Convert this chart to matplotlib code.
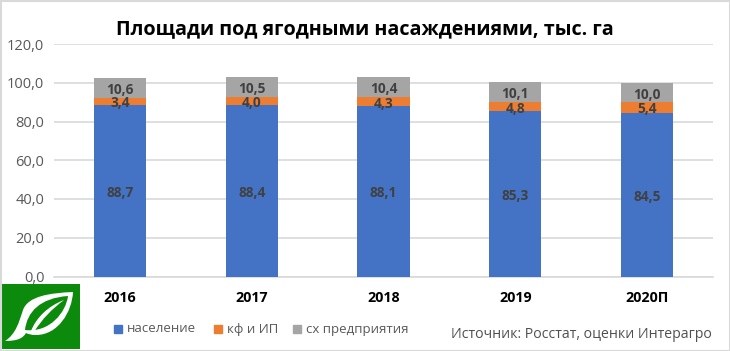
import matplotlib
matplotlib.use("Agg")
import matplotlib.pyplot as plt
from matplotlib.patches import Rectangle, PathPatch
from matplotlib.path import Path

years = ["2016", "2017", "2018", "2019", "2020П"]
naselenie = [88.7, 88.4, 88.1, 85.3, 84.5]
kf_ip = [3.4, 4.0, 4.3, 4.8, 5.4]
sh = [10.6, 10.5, 10.4, 10.1, 10.0]
yticks = [0, 20, 40, 60, 80, 100, 120]
names = ["население", "кф и ИП", "сх предприятия"]
colors = ["#4472C4", "#ED7D31", "#A5A5A5"]

plt.rcParams['font.family'] = ['Open Sans', 'DejaVu Sans']
W, H = 730, 351
fig = plt.figure(figsize=(W/100, H/100), dpi=100, facecolor="white")
ax = fig.add_axes([54/W, 1-276.5/H, 659/W, 232.5/H])
bottom = [0]*5
for vals, c in zip([naselenie, kf_ip, sh], colors):
    bars = ax.bar(range(5), vals, width=0.395, bottom=bottom, color=c, zorder=3)
    for b, v, bt in zip(bars, vals, bottom):
        ax.annotate(f"{v:.1f}".replace(".", ","), (b.get_x()+b.get_width()/2, bt+v/2),
                    xytext=(0, -1.4), textcoords="offset points",
                    ha="center", va="center", fontsize=9.8, fontweight="bold",
                    color="#404040", zorder=4)
    bottom = [a+b for a, b in zip(bottom, vals)]
ax.set_xlim(-0.5, 4.5)
ax.set_ylim(0, 120)
ax.set_yticks(yticks)
ax.set_yticklabels([f"{v:.1f}".replace(".", ",") for v in yticks], fontsize=10.5, color="#595959")
ax.set_xticks(range(5))
ax.set_xticklabels(years, fontsize=10.3, fontweight="bold", color="black")
ax.tick_params(length=0)
ax.tick_params(axis="x", pad=10.5)
ax.tick_params(axis="y", pad=7)
ax.grid(axis="y", color="#D9D9D9", lw=1.2, zorder=0)
for s in ["top", "right", "left"]:
    ax.spines[s].set_visible(False)
ax.spines["bottom"].set_color("#D9D9D9")
ax.spines["bottom"].set_linewidth(1.2)

fig.text(365/W, 1-29/H, "Площади под ягодными насаждениями, тыс. га", ha="center", va="center",
         fontsize=14.2, fontweight="bold", color="black")
fig.text(581/W, 1-334/H, "Источник: Росстат, оценки Интерагро", ha="center", va="center",
         fontsize=10.2, color="#505050")

for x, n, c in zip([114, 214, 293], names, colors):
    fig.add_artist(Rectangle((x/W, 1-333/H), 8/W, 8/H, transform=fig.transFigure, color=c))
    fig.text((x+13)/W, 1-329/H, n, ha="left", va="center", fontsize=9.5, color="#595959")

# logo
GREEN = "#0B8A0B"
ov = fig.add_axes([0, 0, 1, 1], facecolor="none")
ov.set_xlim(0, W); ov.set_ylim(H, 0); ov.axis("off")
ov.add_patch(Rectangle((2, 284), 78, 65, color=GREEN, lw=0))
M, C, Z = Path.MOVETO, Path.CURVE4, Path.CLOSEPOLY
ov.add_patch(PathPatch(Path(
    [(5, 341), (16, 334), (19, 322), (23, 310), (28, 296), (50, 293), (73, 292),
     (72, 312), (58, 335), (36, 335), (31, 335), (28, 334), (26, 333),
     (23, 338), (18, 341), (5, 341), (5, 341)],
    [M, C, C, C, C, C, C, C, C, C, C, C, C, C, C, C, Z]), fc="white", ec="none"))
ov.add_patch(PathPatch(Path(
    [(25, 330), (27, 312), (40, 298), (68, 296), (66, 312), (50, 333), (25, 330), (25, 330)],
    [M, C, C, C, C, C, C, Z]), fc=GREEN, ec="none"))
ov.add_patch(PathPatch(Path(
    [(31, 331), (36, 318), (48, 306), (64, 300), (52, 309), (42, 319), (34, 332), (31, 331)],
    [M, C, C, C, C, C, C, Z]), fc="white", ec="none"))
ov.add_patch(Rectangle((0.5, 0.5), W-1, H-1, fc="none", ec="#D9D9D9", lw=1.5))
fig.savefig("out.png", dpi=100, facecolor="white")
